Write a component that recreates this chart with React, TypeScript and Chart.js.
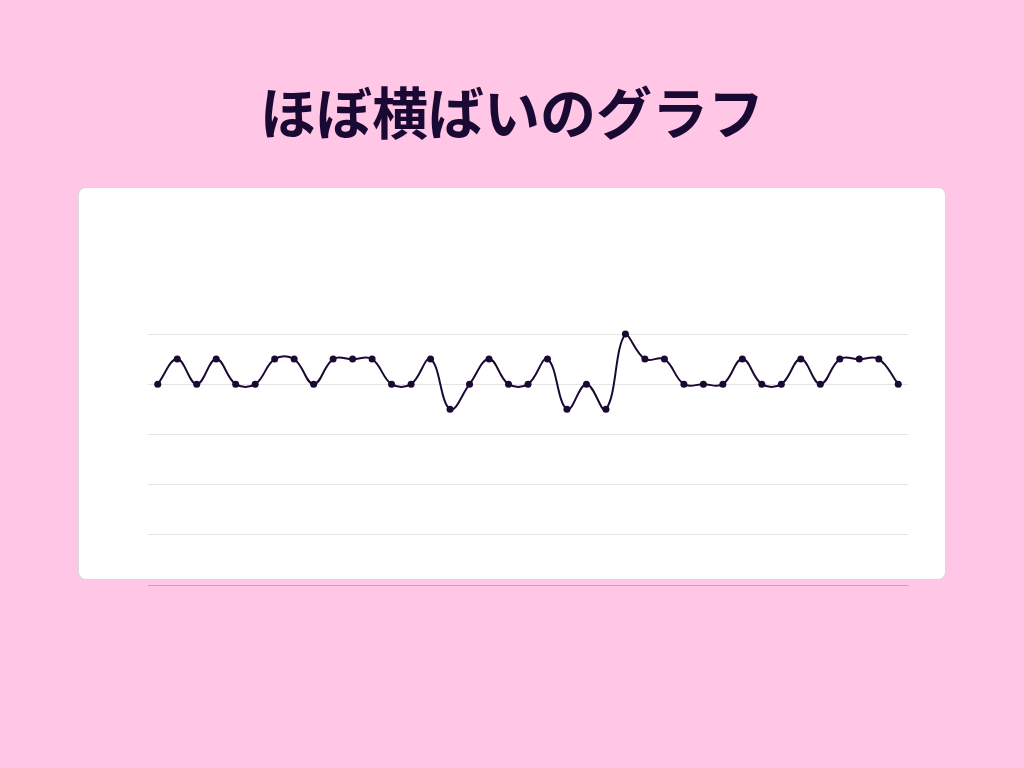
import { useEffect, useRef } from "react";
import { Chart, registerables } from "chart.js";

Chart.register(...registerables);

// データ（ほぼ横ばい）
const labels = Array.from({ length: 39 }, (_, i) => `${i + 1}`);
const values = [
  50, 51, 50, 51, 50, 50, 51, 51, 50, 51,
  51, 51, 50, 50, 51, 49, 50, 51, 50, 50,
  51, 49, 50, 49, 52, 51, 51, 50, 50, 50,
  51, 50, 50, 51, 50, 51, 51, 51, 50,
];
const yMin = 42;
const yMax = 52;
const yStep = 2;

const INK = "#1a0a33";
const PINK = "#ffc6e5";

export default function App() {
  const canvasRef = useRef<HTMLCanvasElement | null>(null);
  const chartRef = useRef<Chart | null>(null);

  useEffect(() => {
    if (!canvasRef.current) return;
    const ctx = canvasRef.current.getContext("2d");
    if (!ctx) return;

    chartRef.current = new Chart(ctx, {
      type: "line",
      data: {
        labels,
        datasets: [
          {
            data: values,
            borderColor: INK,
            backgroundColor: INK,
            borderWidth: 2,
            tension: 0.4,
            pointRadius: 3.5,
            pointBackgroundColor: INK,
            pointBorderWidth: 0,
            fill: false,
            clip: false,
          },
        ],
      },
      options: {
        animation: false,
        responsive: true,
        maintainAspectRatio: false,
        layout: { padding: 8 },
        plugins: {
          legend: { display: false },
          tooltip: { enabled: false },
        },
        scales: {
          x: {
            offset: true,
            grid: { display: false, drawTicks: false },
            border: { display: true, color: "rgba(0,0,0,0.1)" },
            ticks: { display: false },
          },
          y: {
            min: yMin,
            max: yMax,
            grid: { color: "rgba(0,0,0,0.1)", drawTicks: false },
            border: { display: false },
            ticks: { display: false, stepSize: yStep },
          },
        },
      },
    });

    return () => {
      chartRef.current?.destroy();
      chartRef.current = null;
    };
  }, []);

  return (
    <div
      style={{
        position: "fixed",
        inset: 0,
        background: PINK,
        fontFamily: '"Noto Sans CJK JP", "Noto Sans", sans-serif',
      }}
    >
      <div
        style={{
          position: "absolute",
          top: 72,
          left: 0,
          width: 1024,
          textAlign: "center",
          fontSize: 56,
          fontWeight: 700,
          color: INK,
          lineHeight: "76px",
        }}
      >
        ほぼ横ばいのグラフ
      </div>
      <div
        style={{
          position: "absolute",
          left: 78,
          top: 187,
          width: 866,
          height: 391,
          background: "#fff",
          border: "1px solid #d8d8d8",
          borderRadius: 8,
        }}
      />
      <div
        style={{
          position: "absolute",
          left: 140,
          top: 326,
          width: 776,
          height: 267,
        }}
      >
        <canvas ref={canvasRef} />
      </div>
    </div>
  );
}
